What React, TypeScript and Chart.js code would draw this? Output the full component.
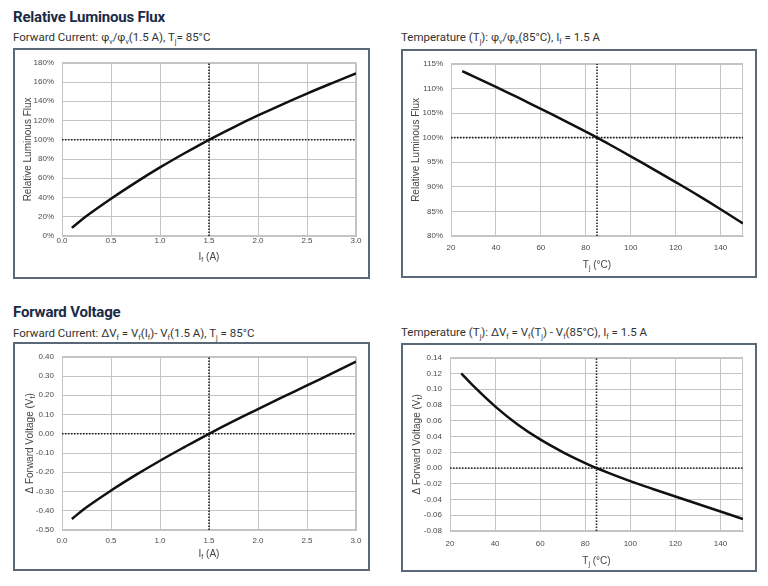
import React, { useEffect, useRef } from 'react';
import { Chart, registerables } from 'chart.js';

Chart.register(...registerables);

// ---------- data ----------
const IF_A = [0.1, 0.25, 0.5, 0.75, 1.0, 1.25, 1.5, 1.75, 2.0, 2.25, 2.5, 2.75, 3.0];
const FLUX_VS_IF = [8.45, 20.75, 38.75, 55.5, 71.25, 86, 100, 113, 125.25, 136.9, 148, 158.6, 168.9];
const DVF_VS_IF = [-0.443, -0.382, -0.295, -0.215, -0.14, -0.069, 0, 0.0655, 0.128, 0.19, 0.251, 0.3125, 0.375];

const TJ_C = [25, 30, 40, 50, 60, 70, 80, 85, 90, 100, 110, 120, 130, 140, 150];
const FLUX_VS_TJ = [113.5, 112.45, 110.3, 108.1, 105.85, 103.55, 101.2, 100, 98.75, 96.2, 93.6, 90.95, 88.25, 85.45, 82.55];
const DVF_VS_TJ = [0.1203, 0.1053, 0.0783, 0.0553, 0.0363, 0.0203, 0.00625, 0, -0.00575, -0.0166, -0.0266, -0.0362, -0.0457, -0.0552, -0.0649];

const REF_IF = 1.5;
const REF_TJ = 85;
const REF_FLUX = 100;
const REF_DVF = 0;

const IF_RANGE = [0, 3];
const TJ_RANGE = [20, 150];
const FLUX_IF_RANGE = [0, 180];
const FLUX_TJ_RANGE = [80, 115];
const DVF_IF_RANGE = [-0.5, 0.4];
const DVF_TJ_RANGE = [-0.08, 0.14];

// ---------- style ----------
const CHART_FONT = "'Liberation Sans', Arial, sans-serif";
const GRID = '#c4c4c4';
const TICK_COLOR = '#4a4a4a';
const TITLE_COLOR = '#444';

type Seg = { t: string; sub?: boolean };

function drawSegs(ctx: CanvasRenderingContext2D, segs: Seg[], cx: number, cy: number, rot: number) {
  const main = `10px ${CHART_FONT}`;
  const sub = `7px ${CHART_FONT}`;
  let w = 0;
  const widths = segs.map((s) => {
    ctx.font = s.sub ? sub : main;
    const m = ctx.measureText(s.t).width;
    w += m;
    return m;
  });
  ctx.save();
  ctx.translate(cx, cy);
  ctx.rotate(rot);
  ctx.textBaseline = 'alphabetic';
  ctx.textAlign = 'left';
  let x = -w / 2;
  segs.forEach((s, i) => {
    ctx.font = s.sub ? sub : main;
    ctx.fillText(s.t, x, s.sub ? 5.5 : 3.5);
    x += widths[i];
  });
  ctx.restore();
}

type Spec = {
  xs: number[];
  ys: number[];
  xRange: number[];
  yRange: number[];
  xStep: number;
  yStep: number;
  xDec: number;
  yFmt: (v: number) => string;
  refX: number;
  refY: number;
  yw: number;
  xh: number;
  padTop: number;
  padRight: number;
  xTickPad: number;
  xTitle: Seg[];
  yTitle: Seg[];
  xTitleOff: number;
  yTitleOff: number;
};

function fixed(v: number, d: number) {
  const r = Math.round(v * 1000) / 1000;
  return (Math.abs(r) < 1e-9 ? 0 : r).toFixed(d);
}

function ChartBox(props: { spec: Spec; left: number; top: number; w: number; h: number }) {
  const { spec, left, top, w, h } = props;
  const ref = useRef<HTMLCanvasElement | null>(null);
  useEffect(() => {
    const canvas = ref.current;
    if (!canvas) return;
    const framePlugin = {
      id: 'frame',
      beforeDatasetsDraw(chart: any) {
        const { ctx, chartArea: ca } = chart;
        ctx.save();
        ctx.strokeStyle = GRID;
        ctx.lineWidth = 1;
        ctx.strokeRect(Math.round(ca.left) + 0.5, Math.round(ca.top) + 0.5, Math.round(ca.right - ca.left) - 1, Math.round(ca.bottom - ca.top) - 1);
        ctx.restore();
      },
    };
    const titlePlugin = {
      id: 'axisTitles',
      afterDraw(chart: any) {
        const { ctx, chartArea: ca } = chart;
        ctx.save();
        ctx.fillStyle = TITLE_COLOR;
        drawSegs(ctx, spec.xTitle, (ca.left + ca.right) / 2, chart.scales.x.bottom - spec.xTitleOff, 0);
        drawSegs(ctx, spec.yTitle, chart.scales.y.left + spec.yTitleOff, (ca.top + ca.bottom) / 2, -Math.PI / 2);
        ctx.restore();
      },
    };
    const curve = spec.xs.map((x, i) => ({ x, y: spec.ys[i] }));
    const chart = new Chart(canvas, {
      type: 'line',
      data: {
        datasets: [
          {
            data: curve,
            borderColor: '#111',
            borderWidth: 2.5,
            pointRadius: 0,
            tension: 0.4,
            fill: false,
          },
          {
            data: [
              { x: spec.refX, y: spec.yRange[0] },
              { x: spec.refX, y: spec.yRange[1] },
            ],
            borderColor: '#222',
            borderWidth: 1.6,
            borderDash: [1.5, 1.5],
            pointRadius: 0,
            fill: false,
          },
          {
            data: [
              { x: spec.xRange[0], y: spec.refY },
              { x: spec.xRange[1], y: spec.refY },
            ],
            borderColor: '#222',
            borderWidth: 1.6,
            borderDash: [1.5, 1.5],
            pointRadius: 0,
            fill: false,
          },
        ],
      },
      options: {
        animation: false,
        responsive: false,
        devicePixelRatio: 1,
        layout: { padding: { top: spec.padTop, right: spec.padRight, left: 0, bottom: 0 } },
        plugins: { legend: { display: false }, tooltip: { enabled: false } },
        scales: {
          x: {
            type: 'linear',
            min: spec.xRange[0],
            max: spec.xRange[1],
            grid: { color: GRID, drawTicks: false, lineWidth: 1 },
            border: { color: GRID },
            ticks: {
              stepSize: spec.xStep,
              includeBounds: false,
              autoSkip: false,
              maxRotation: 0,
              padding: spec.xTickPad,
              color: TICK_COLOR,
              font: { family: CHART_FONT, size: 8 },
              callback: (v: any) => fixed(Number(v), spec.xDec),
            },
            afterFit: (s: any) => {
              s.height = spec.xh;
            },
          },
          y: {
            type: 'linear',
            min: spec.yRange[0],
            max: spec.yRange[1],
            grid: { color: GRID, drawTicks: false, lineWidth: 1 },
            border: { color: GRID },
            ticks: {
              stepSize: spec.yStep,
              autoSkip: false,
              padding: 8,
              color: TICK_COLOR,
              font: { family: CHART_FONT, size: 8 },
              callback: (v: any) => spec.yFmt(Number(v)),
            },
            afterFit: (s: any) => {
              s.width = spec.yw;
            },
          },
        },
      } as any,
      plugins: [framePlugin, titlePlugin],
    } as any);
    return () => chart.destroy();
  }, [spec]);
  return (
    <div
      style={{
        position: 'absolute',
        left,
        top,
        width: w,
        height: h,
        border: '2px solid #5a6878',
        boxSizing: 'content-box',
        background: '#fff',
      }}
    >
      <canvas ref={ref} width={w} height={h} style={{ display: 'block', width: w, height: h }} />
    </div>
  );
}

const SPEC_TL: Spec = {
  xs: IF_A,
  ys: FLUX_VS_IF,
  xRange: IF_RANGE,
  yRange: FLUX_IF_RANGE,
  xStep: 0.5,
  yStep: 20,
  xDec: 1,
  yFmt: (v) => `${Math.round(v)}%`,
  refX: REF_IF,
  refY: REF_FLUX,
  yw: 47,
  xh: 41,
  padTop: 8,
  padRight: 12,
  xTickPad: 0,
  xTitle: [{ t: 'I' }, { t: 'f', sub: true }, { t: ' (A)' }],
  yTitle: [{ t: 'Relative Luminous Flux' }],
  xTitleOff: 21,
  yTitleOff: 12.5,
};

const SPEC_TR: Spec = {
  xs: TJ_C,
  ys: FLUX_VS_TJ,
  xRange: TJ_RANGE,
  yRange: FLUX_TJ_RANGE,
  xStep: 20,
  yStep: 5,
  xDec: 0,
  yFmt: (v) => `${Math.round(v)}%`,
  refX: REF_TJ,
  refY: REF_FLUX,
  yw: 48,
  xh: 40,
  padTop: 7,
  padRight: 12,
  xTickPad: 7,
  xTitle: [{ t: 'T' }, { t: 'j', sub: true }, { t: ' (°C)' }],
  yTitle: [{ t: 'Relative Luminous Flux' }],
  xTitleOff: 12,
  yTitleOff: 12.5,
};

const SPEC_BL: Spec = {
  xs: IF_A,
  ys: DVF_VS_IF,
  xRange: IF_RANGE,
  yRange: DVF_IF_RANGE,
  xStep: 0.5,
  yStep: 0.1,
  xDec: 1,
  yFmt: (v) => fixed(v, 2),
  refX: REF_IF,
  refY: REF_DVF,
  yw: 47,
  xh: 39,
  padTop: 9,
  padRight: 12,
  xTickPad: 6,
  xTitle: [{ t: 'I' }, { t: 'f', sub: true }, { t: ' (A)' }],
  yTitle: [{ t: 'Δ Forward Voltage (V' }, { t: 'f', sub: true }, { t: ')' }],
  xTitleOff: 16,
  yTitleOff: 14,
};

const SPEC_BR: Spec = {
  xs: TJ_C,
  ys: DVF_VS_TJ,
  xRange: TJ_RANGE,
  yRange: DVF_TJ_RANGE,
  xStep: 20,
  yStep: 0.02,
  xDec: 0,
  yFmt: (v) => fixed(v, 2),
  refX: REF_TJ,
  refY: REF_DVF,
  yw: 47,
  xh: 39,
  padTop: 8,
  padRight: 12,
  xTickPad: 8,
  xTitle: [{ t: 'T' }, { t: 'j', sub: true }, { t: ' (°C)' }],
  yTitle: [{ t: 'Δ Forward Voltage (V' }, { t: 'f', sub: true }, { t: ')' }],
  xTitleOff: 10,
  yTitleOff: 13,
};

const subStyle: React.CSSProperties = { fontSize: '0.6em', verticalAlign: '-0.45em', lineHeight: 0 };
const S = (p: { c: string }) => <sub style={subStyle}>{p.c}</sub>;

const headStyle: React.CSSProperties = {
  position: 'absolute',
  margin: 0,
  font: "700 15px Roboto, 'Noto Sans', sans-serif",
  color: '#1b2a47',
  lineHeight: '15px',
  whiteSpace: 'nowrap',
  letterSpacing: '-0.2px',
};
const subHeadStyle: React.CSSProperties = {
  position: 'absolute',
  margin: 0,
  font: "400 11.5px Roboto, 'Noto Sans', sans-serif",
  color: '#333',
  lineHeight: '12px',
  whiteSpace: 'nowrap',
};

export default function App() {
  return (
    <div
      style={{
        position: 'absolute',
        left: 0,
        top: 0,
        width: 768,
        height: 586,
        background: '#fff',
        overflow: 'hidden',
      }}
    >
      <div style={{ ...headStyle, left: 13, top: 10 }}>Relative Luminous Flux</div>
      <div style={{ ...subHeadStyle, left: 13, top: 31 }}>
        Forward Current: φ<S c="v" />/φ<S c="v" />(1.5 A), T<S c="j" />= 85°C
      </div>
      <div style={{ ...subHeadStyle, left: 401, top: 31 }}>
        Temperature (T<S c="j" />): φ<S c="v" />/φ<S c="v" />(85°C), I<S c="f" /> = 1.5 A
      </div>

      <div style={{ ...headStyle, left: 13, top: 304.5 }}>Forward Voltage</div>
      <div style={{ ...subHeadStyle, left: 13, top: 326.5 }}>
        Forward Current: ΔV<S c="f" /> = V<S c="f" />(I<S c="f" />)- V<S c="f" />(1.5 A), T<S c="j" /> = 85°C
      </div>
      <div style={{ ...subHeadStyle, left: 401, top: 325.5 }}>
        Temperature (T<S c="j" />): ΔV<S c="f" /> = V<S c="f" />(T<S c="j" />) - V<S c="f" />(85°C), I<S c="f" /> = 1.5 A
      </div>

      <ChartBox spec={SPEC_TL} left={13} top={48} w={353} h={227} />
      <ChartBox spec={SPEC_TR} left={401} top={49} w={352} h={225} />
      <ChartBox spec={SPEC_BL} left={13} top={342} w={353} h={225} />
      <ChartBox spec={SPEC_BR} left={401} top={343} w={352} h={225} />
    </div>
  );
}
